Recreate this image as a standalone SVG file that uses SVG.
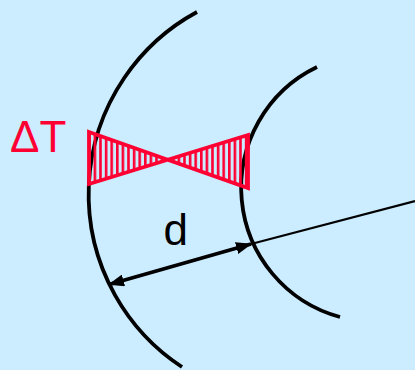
<svg xmlns="http://www.w3.org/2000/svg" width="415" height="370" viewBox="0 0 415 370">
  <style>
    .arc { fill: none; stroke: #000; stroke-width: 3.8; stroke-linecap: butt; }
    .lbl { font-family: "Liberation Sans", Arial, sans-serif; font-size: 44px; }
    .red { fill: #FF0033; }
  </style>
  <defs>
    <pattern id="hatch" patternUnits="userSpaceOnUse" x="88" y="0" width="5.6" height="10">
      <rect x="0" y="0" width="2.6" height="10" fill="#FF0033"/>
    </pattern>
    <marker id="ah" viewBox="0 0 16 12" refX="15" refY="6" markerWidth="16" markerHeight="12" markerUnits="userSpaceOnUse" orient="auto-start-reverse">
      <path d="M0,0 L16,6 L0,12 Z" fill="#000"/>
    </marker>
  </defs>
  <rect x="0" y="0" width="415" height="370" fill="#CCECFF"/>

  <g id="outer-wavefront">
    <path class="arc" d="M197,12 A207,207 0 0 0 182,367"/>
  </g>
  <g id="inner-wavefront">
    <path class="arc" d="M317,67 A134,134 0 0 0 340,317"/>
  </g>

  <g id="delta-t-bowtie">
    <path d="M89,132 L248,188 L248,135 L89,184 Z" fill="url(#hatch)" stroke="#FF0033" stroke-width="3.8" stroke-linejoin="miter"/>
  </g>

  <g id="label-delta-t">
    <text class="lbl red" x="10" y="152">ΔT</text>
  </g>
  <g id="label-d">
    <text class="lbl" x="163.5" y="245" fill="#000">d</text>
  </g>

  <g id="connectors">
    <line x1="251" y1="244" x2="415" y2="201" stroke="#000" stroke-width="2.2"/>
    <line x1="109" y1="284.5" x2="251" y2="244" stroke="#000" stroke-width="3.8" marker-start="url(#ah)" marker-end="url(#ah)"/>
  </g>
</svg>
